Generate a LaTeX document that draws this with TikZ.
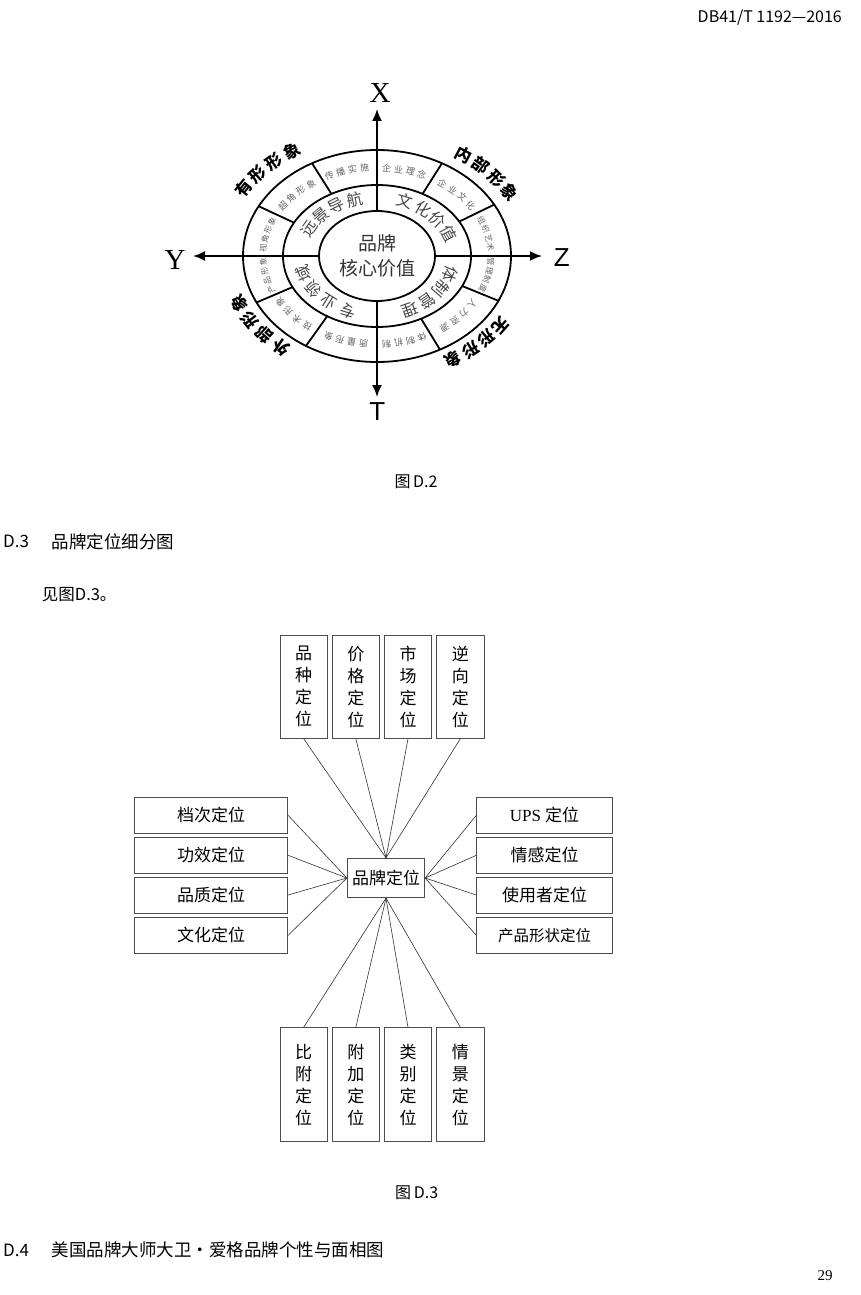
\documentclass[tikz,border=0pt]{standalone}
\usepackage{fontspec}
\setmainfont{Noto Sans CJK SC}
\newfontfamily\lserif{Liberation Serif}
\newfontfamily\lsans{Liberation Sans}
\usetikzlibrary{arrows.meta}
\newcommand\myfs[1]{\fontsize{#1}{#1}\selectfont}
\newcommand\myfsl[2]{\fontsize{#1}{#2}\selectfont}
% text set along an ellipse, read clockwise, glyph tops pointing outward
\newcommand\ringtext[7]{%
  \pgfmathsetmacro\rtstep{#5/(100*sqrt((#2*sin(#4)/100)^2+(#3*cos(#4)/100)^2)*0.0174533)}%
  \foreach \ch [count=\i from 0] in {#7} {%
    \pgfmathsetmacro\rtt{#4+(1.5-\i)*\rtstep}%
    \pgfmathsetmacro\rtr{atan2(#2*sin(\rtt),#3*cos(\rtt))-90}%
    \node[#6, rotate=\rtr] (#1-\i) at ({#2*cos(\rtt)},{#3*sin(\rtt)}) {\ch};
  }}
\tikzset{
  txt/.style={inner sep=0pt},
  myring/.style={line width=1.8pt},
  myaxis/.style={line width=1.8pt, {Latex[length=12pt,width=10pt]}-{Latex[length=12pt,width=10pt]}},
  otxt/.style={inner sep=0pt, text=black!60, font=\myfs{9}},
  otxts/.style={inner sep=0pt, text=black!60, font=\myfs{8}},
  mtxt/.style={inner sep=0pt, text=black!72, font=\myfs{16}},
  btxt/.style={inner sep=0pt, font=\myfs{16.5}\bfseries},
  mybox/.style={draw=black!70, line width=0.8pt, inner sep=0pt, font=\myfs{17}},
  hbox/.style={mybox, minimum width=153.4pt, minimum height=36pt},
  rbox/.style={mybox, minimum width=135.6pt, minimum height=36pt},
  vbox/.style={mybox, minimum width=47.3pt, align=center, font=\myfsl{17}{22}},
  mylink/.style={draw=black!80, line width=0.6pt},
}
\begin{document}
\begin{tikzpicture}[x=1pt, y=-1pt]
\fill[white] (0,0) rectangle (860,1295);
\useasboundingbox (0,0) rectangle (860,1295);

% page texts
\node[txt, anchor=east, font=\myfs{16}] (hdr) at (842,18) {DB41/T 1192—2016};
\node[txt, font=\myfs{16}] (cap2) at (416,482) {图\,D.2};
\node[txt, anchor=west, font=\myfs{17}] (h3a) at (3,541.7) {D.3};
\node[txt, anchor=west, font=\myfs{17.5}] (h3b) at (51.7,541.7) {品牌定位细分图};
\node[txt, anchor=west, font=\myfs{16.5}] (see) at (41.7,595) {见图D.3。};
\node[txt, font=\myfs{16}] (cap3) at (416.7,1193) {图\,D.3};
\node[txt, anchor=west, font=\myfs{17}] (h4a) at (3,1250) {D.4};
\node[txt, anchor=west, font=\myfs{17.5}] (h4b) at (51.7,1250) {美国品牌大师大卫·爱格品牌个性与面相图};
\node[txt, font=\lserif\myfs{15}] (pg) at (825,1276) {29};

% ===== Figure D.2 =====
\begin{scope}[shift={(377,256)}, y=1pt]
  \coordinate (aN) at (0,147);
  \coordinate (aS) at (0,-141);
  \coordinate (aW) at (-184,0);
  \coordinate (aE) at (165,0);
  \draw[myaxis] (aS) -- (aN);
  \draw[myaxis] (aW) -- (aE);
  \draw[myring] (0,0) ellipse [x radius=134, y radius=106];
  \draw[myring] (0,0) ellipse [x radius=94, y radius=71];
  \filldraw[myring, fill=white] (0,0) ellipse [x radius=58, y radius=45];
  \foreach \t in {29,61,119,152,206,238,298,335}
    \draw[myring] ({94*cos(\t)},{71*sin(\t)}) -- ({134*cos(\t)},{106*sin(\t)});

  \node[txt, text=black!80, font=\myfsl{19}{25}, align=center] (core) at (0,0) {品牌\\核心价值};

  \node[txt, font=\lserif\myfs{29}] (lx) at (3,163) {X};
  \node[txt, font=\lserif\myfs{29}] (ly) at (-202,-4) {Y};
  \node[txt, font=\lsans\myfs{26}] (lz) at (184.7,-2) {Z};
  \node[txt, font=\lsans\myfs{26}] (lt) at (0.3,-155.7) {T};

  % outer ring
  \ringtext{oa}{114}{88.5}{105.5}{12}{otxt}{传,播,实,施}
  \ringtext{ob}{114}{88.5}{76}{12}{otxt}{企,业,理,念}
  \ringtext{oc}{114}{88.5}{45}{12}{otxt}{企,业,文,化}
  \ringtext{od}{114}{88.5}{14.5}{9.5}{otxts}{组,织,艺,术}
  \ringtext{oe}{114}{88.5}{-12.5}{9.5}{otxts}{管,理,制,度}
  \ringtext{of}{114}{88.5}{-43.5}{12}{otxt}{人,力,资,源}
  \ringtext{og}{114}{88.5}{-76}{12}{otxt}{体,制,机,制}
  \ringtext{oh}{114}{88.5}{254}{12}{otxt}{质,量,形,象}
  \ringtext{oi}{114}{88.5}{222}{12}{otxt}{技,术,形,象}
  \ringtext{oj}{114}{88.5}{193}{9.5}{otxts}{产,品,形,象}
  \ringtext{ok}{114}{88.5}{166}{9.5}{otxts}{视,角,形,象}
  \ringtext{ol}{114}{88.5}{135.5}{12}{otxt}{超,角,形,象}
  % middle ring
  \ringtext{ma}{77}{59}{129.5}{18.5}{mtxt}{远,景,导,航}
  \ringtext{mb}{77}{59}{45.5}{18.5}{mtxt}{文,化,价,值}
  \ringtext{mc}{77}{59}{-41.5}{18.5}{mtxt}{体,制,管,理}
  \ringtext{md}{77}{59}{222.5}{20}{mtxt}{专,业,领,域}
  % outside labels
  \ringtext{ba}{158}{125}{135}{20.5}{btxt}{有,形,形,象}
  \ringtext{bb}{155}{122}{43.7}{20}{btxt}{内,部,形,象}
  \ringtext{bc}{151}{120}{-47.7}{20}{btxt}{无,形,形,象}
  \ringtext{bd}{150}{119}{216.7}{20.5}{btxt}{外,部,形,象}
\end{scope}

% ===== Figure D.3 =====
\node[mybox, minimum width=77.4pt, minimum height=39.4pt] (c) at (386,878) {品牌定位};

\node[vbox, minimum height=103.3pt] (t1) at (303.65,686.65) {品\\种\\定\\位};
\node[vbox, minimum height=103.3pt] (t2) at (355.8,686.65) {价\\格\\定\\位};
\node[vbox, minimum height=103.3pt] (t3) at (408,686.65) {市\\场\\定\\位};
\node[vbox, minimum height=103.3pt] (t4) at (460.35,686.65) {逆\\向\\定\\位};

\node[hbox] (l1) at (211,815.3) {档次定位};
\node[hbox] (l2) at (211,855.3) {功效定位};
\node[hbox] (l3) at (211,895) {品质定位};
\node[hbox] (l4) at (211,935.3) {文化定位};

\node[rbox] (r1) at (544.5,815.3) {\lserif UPS \rmfamily 定位};
\node[rbox] (r2) at (544.5,855.3) {情感定位};
\node[rbox] (r3) at (544.5,895) {使用者定位};
\node[rbox, font=\myfs{15.5}] (r4) at (544.5,935.3) {产品形状定位};

\node[vbox, minimum height=114pt] (d1) at (303.65,1084.7) {比\\附\\定\\位};
\node[vbox, minimum height=114pt] (d2) at (355.8,1084.7) {附\\加\\定\\位};
\node[vbox, minimum height=114pt] (d3) at (408,1084.7) {类\\别\\定\\位};
\node[vbox, minimum height=114pt] (d4) at (460.35,1084.7) {情\\景\\定\\位};

\foreach \n in {t1,t2,t3,t4} \draw[mylink] (\n.south) -- (c.north);
\foreach \n in {l1,l2,l3,l4} \draw[mylink] (\n.east) -- (c.west);
\foreach \n in {r1,r2,r3,r4} \draw[mylink] (\n.west) -- (c.east);
\foreach \n in {d1,d2,d3,d4} \draw[mylink] (\n.north) -- (c.south);
\end{tikzpicture}
\end{document}
